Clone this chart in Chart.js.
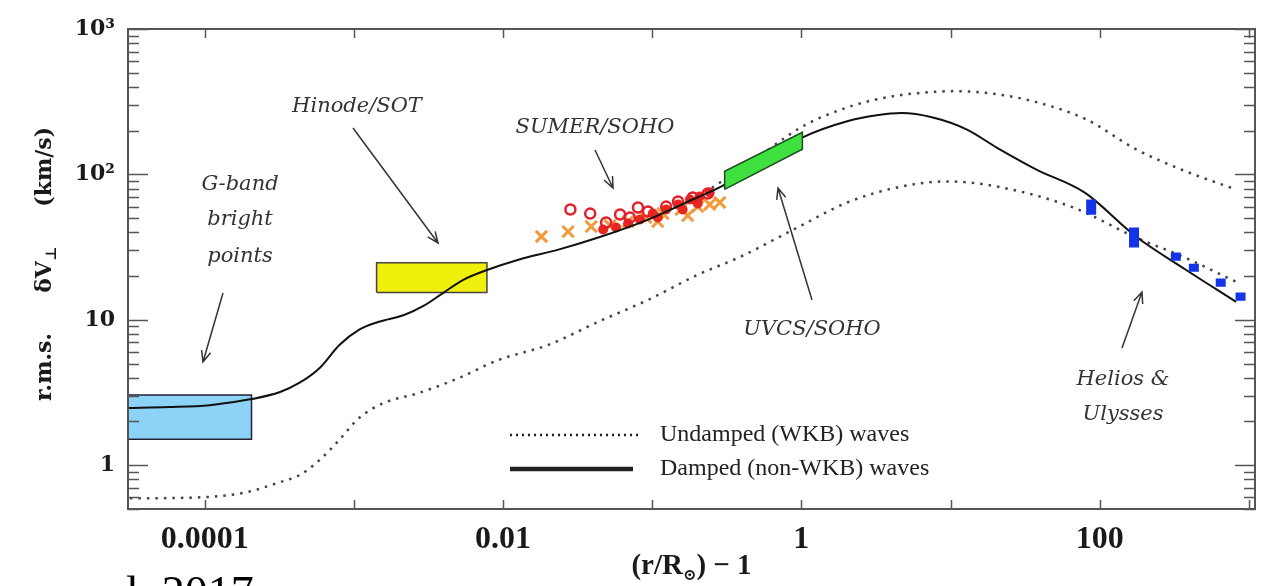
<!DOCTYPE html>
<html>
<head>
<meta charset="utf-8">
<script src="https://cdn.jsdelivr.net/npm/chart.js@4.4.0/dist/chart.umd.min.js"></script>
<style>
  html, body { margin: 0; padding: 0; background: #fff; }
  #wrap { width: 1266px; height: 586px; position: relative; }
</style>
</head>
<body>
<div id="wrap"><canvas id="c"></canvas></div>
<script>
// x = (r/Rsun) - 1, y = r.m.s. dV_perp in km/s
const xTickValues = [1e-4, 1e-3, 1e-2, 1e-1, 1, 10, 100, 1000];
const xTickLabels = ['0.0001', '', '0.01', '', '1', '', '100', ''];
const yTickValues = [1, 10, 100, 1000];
const yTickLabels = ['1', '10', '10²', '10³'];

// damped (non-WKB) model, solid
const dampedR = [3.0e-5, 5.8e-5, 1.08e-4, 2.06e-4, 3.2e-4, 4.3e-4, 5.9e-4, 8.0e-4, 1.08e-3, 1.47e-3, 2.17e-3, 2.95e-3, 4.0e-3, 5.45e-3, 7.9e-3, 0.0127, 0.0235, 0.0435, 0.094, 0.20, 0.30, 0.51, 1.02, 2.03, 3.2, 4.7, 7.5, 12.8, 20.4, 37.7, 79, 175, 378, 820];
const dampedV = [2.47, 2.51, 2.59, 2.85, 3.19, 3.68, 4.67, 6.72, 8.53, 9.69, 10.8, 12.5, 15.4, 18.9, 22.1, 25.9, 30.4, 36.8, 48.9, 69.4, 84, 121, 180, 232, 255, 264, 247, 204, 153, 108, 75.2, 37.4, 22.1, 13.3];

// undamped (WKB), upper dotted branch
const wkbHighR = [0.202, 0.508, 1.02, 1.88, 3.22, 5.96, 11.0, 20.4, 37.7, 81.3, 175, 378, 817];
const wkbHighV = [69.4, 131, 214, 281, 329, 362, 374, 356, 314, 239, 149, 105, 78.8];

// undamped (WKB), lower dotted branch
const wkbLowR = [3.15e-5, 9.7e-5, 1.9e-4, 3.17e-4, 4.31e-4, 5.86e-4, 7.97e-4, 1.08e-3, 1.59e-3, 2.73e-3, 5.05e-3, 9.33e-3, 0.0201, 0.0435, 0.0937, 0.202, 0.392, 0.94, 2.03, 4.38, 9.44, 20.4, 66.5, 175, 361, 817];
const wkbLowV = [0.592, 0.602, 0.652, 0.763, 0.853, 1.08, 1.49, 2.11, 2.68, 3.14, 3.98, 5.3, 6.72, 9.69, 13.7, 20.4, 27.2, 43.1, 64.1, 81.3, 89.5, 82.6, 59.2, 36.8, 27.2, 18.3];

// observations
const gbandR = [3e-5, 2.06e-4];
const gbandV = [1.51, 3.04];
const hinodeR = [1.42e-3, 7.8e-3];
const hinodeV = [15.4, 24.7];
const uvcsR = [0.306, 1.016];
const uvcsLo = [78.8, 149];
const uvcsHi = [105, 195];

const sumerCircR = [0.0283, 0.0384, 0.0491, 0.0609, 0.071, 0.0803, 0.0937, 0.124, 0.149, 0.187, 0.236];
const sumerCircV = [57.4, 53.8, 46.7, 53, 50.5, 59.2, 55.6, 60.1, 65.1, 69.4, 73.9];
const sumerDotR = [0.0469, 0.0573, 0.0689, 0.0828, 0.101, 0.124, 0.149, 0.179, 0.208, 0.243, 0.109, 0.16, 0.202];
const sumerDotV = [41.8, 43.1, 45.9, 48.9, 53.8, 57.4, 62.1, 67.3, 70.5, 75.2, 50.5, 57.4, 63.1];
const sumerCrossR = [0.0181, 0.0273, 0.039, 0.0522, 0.0689, 0.0908, 0.118, 0.156, 0.202, 0.243, 0.284, 0.109, 0.173];
const sumerCrossV = [37.4, 40.4, 43.8, 44.5, 47.4, 50.5, 53.8, 57.4, 60.1, 62.1, 64.1, 47.4, 52.1];

const heliosR = [87.7, 170, 324, 428, 648, 880];
const heliosLo = [52.7, 31.4, 25.5, 21.4, 16.9, 13.5];
const heliosHi = [67.2, 43.1, 29.0, 24.3, 19.2, 15.4];

const pts = (rs, vs) => rs.map((r, i) => ({ x: r, y: vs[i] }));
const quad = (rs, lo, hi) => [
  { x: rs[0], y: lo[0] }, { x: rs[1], y: lo[1] },
  { x: rs[1], y: hi[1] }, { x: rs[0], y: hi[0] }, { x: rs[0], y: lo[0] }
];
const heliosSeg = [];
heliosR.forEach((r, i) => {
  heliosSeg.push({ x: r, y: heliosLo[i] }, { x: r, y: heliosHi[i] }, { x: r, y: null });
});

const SERIF = "'Liberation Serif', 'Times New Roman', serif";
const DJ = "'DejaVu Serif', serif";

function arrow(ctx, x1, y1, x2, y2) {
  const a = Math.atan2(y2 - y1, x2 - x1), h = 12;
  ctx.beginPath();
  ctx.moveTo(x1, y1); ctx.lineTo(x2, y2);
  ctx.moveTo(x2 - h * Math.cos(a - 0.4), y2 - h * Math.sin(a - 0.4));
  ctx.lineTo(x2, y2);
  ctx.lineTo(x2 - h * Math.cos(a + 0.4), y2 - h * Math.sin(a + 0.4));
  ctx.stroke();
}

// frame, inward ticks, notes, legend and axis titles
const decor = {
  id: 'decor',
  afterDraw(chart) {
    const { ctx, chartArea: a, scales: { x, y } } = chart;
    ctx.save();
    ctx.strokeStyle = '#555';
    ctx.lineWidth = 1.5;
    const seg = (x1, y1, x2, y2) => { ctx.beginPath(); ctx.moveTo(x1, y1); ctx.lineTo(x2, y2); ctx.stroke(); };
    for (let e = -1; e <= 3; e++) {
      for (let m = 1; m <= 9; m++) {
        const v = m * Math.pow(10, e);
        if (v < y.min || v > y.max) continue;
        const py = Math.round(y.getPixelForValue(v)) + 0.5;
        const len = m === 1 ? 20 : 11;
        seg(a.left, py, a.left + len, py);
        seg(a.right - len, py, a.right, py);
      }
    }
    xTickValues.forEach(v => {
      const px = Math.round(x.getPixelForValue(v)) + 0.5;
      seg(px, a.bottom, px, a.bottom - 9);
      seg(px, a.top, px, a.top + 9);
    });
    ctx.lineWidth = 2;
    ctx.strokeRect(a.left, a.top, a.width, a.height);

    // notes
    ctx.fillStyle = '#333';
    ctx.strokeStyle = '#333';
    ctx.lineWidth = 1.5;
    ctx.textAlign = 'center';
    ctx.textBaseline = 'middle';
    ctx.font = "italic 21px " + DJ;
    ctx.fillText('G-band', 240, 185);
    ctx.fillText('bright', 240, 220);
    ctx.fillText('points', 240, 257);
    arrow(ctx, 223, 293, 203, 362);
    ctx.fillText('Hinode/SOT', 357, 107);
    arrow(ctx, 353, 128, 438, 243);
    ctx.fillText('SUMER/SOHO', 595, 128);
    arrow(ctx, 595, 150, 613, 188);
    ctx.fillText('UVCS/SOHO', 812, 330);
    arrow(ctx, 812, 300, 778, 188);
    ctx.fillText('Helios &', 1123, 380);
    ctx.fillText('Ulysses', 1123, 415);
    arrow(ctx, 1122, 348, 1142, 292);

    // legend
    ctx.strokeStyle = '#222';
    ctx.lineWidth = 2.5;
    ctx.setLineDash([2, 4]);
    seg(510, 435, 638, 435);
    ctx.setLineDash([]);
    ctx.lineWidth = 4.5;
    seg(510, 469, 633, 469);
    ctx.fillStyle = '#222';
    ctx.textAlign = 'left';
    ctx.font = "24px " + SERIF;
    ctx.fillText('Undamped (WKB) waves', 660, 435);
    ctx.fillText('Damped (non-WKB) waves', 660, 469);

    // x title: (r/R_sun) - 1
    ctx.fillStyle = '#1a1a1a';
    const tf = "bold 29px " + SERIF, sf = "bold 16px " + DJ;
    ctx.font = tf;
    const p1 = '(r/R', p3 = ') − 1';
    const w1 = ctx.measureText(p1).width, w3 = ctx.measureText(p3).width;
    ctx.font = sf;
    const w2 = ctx.measureText('⊙').width;
    const tx = (a.left + a.right) / 2 - (w1 + w2 + w3) / 2;
    const ty = 567;
    ctx.font = tf;
    ctx.fillText(p1, tx, ty);
    ctx.font = sf;
    ctx.fillText('⊙', tx + w1, ty + 9);
    ctx.font = tf;
    ctx.fillText(p3, tx + w1 + w2, ty);

    // y title, rotated
    ctx.save();
    ctx.translate(45, 264);
    ctx.rotate(-Math.PI / 2);
    const big = "bold 22px " + DJ, small = "bold 15px " + DJ;
    const parts = [['r.m.s.', big, 0, 40], ['δV', big, 0, 0], ['⊥', small, 7, 40], ['(km/s)', big, 0, 0]];
    let total = 0;
    parts.forEach(p => { ctx.font = p[1]; total += ctx.measureText(p[0]).width + p[3]; });
    let cx = -total / 2;
    parts.forEach(p => {
      ctx.font = p[1];
      ctx.fillText(p[0], cx, p[2]);
      cx += ctx.measureText(p[0]).width + p[3];
    });
    ctx.restore();

    // stray caption from the slide, cut by the bottom edge
    ctx.fillStyle = '#000';
    ctx.font = "46px " + SERIF;
    ctx.textBaseline = 'alphabetic';
    ctx.fillText('l. 2017', 126, 608);
    ctx.restore();
  }
};

new Chart(document.getElementById('c'), {
  type: 'scatter',
  data: {
    datasets: [
      { data: quad(uvcsR, uvcsLo, uvcsHi), showLine: true, fill: 'shape', tension: 0,
        backgroundColor: '#3fe03f', borderColor: '#1f4f1f', borderWidth: 1.5, pointRadius: 0, order: 1 },
      { data: heliosSeg, showLine: true, spanGaps: false, borderColor: '#1434ea', borderWidth: 10,
        borderCapStyle: 'butt', pointRadius: 0, order: 2 },
      { data: pts(dampedR, dampedV), showLine: true, cubicInterpolationMode: 'monotone',
        borderColor: '#111', borderWidth: 2, pointRadius: 0, order: 3 },
      { data: pts(sumerCircR, sumerCircV), pointStyle: 'circle', pointRadius: 5, pointBorderWidth: 2.5,
        pointBorderColor: '#e3202a', pointBackgroundColor: 'rgba(0,0,0,0)', order: 4 },
      { data: pts(sumerDotR, sumerDotV), pointStyle: 'circle', pointRadius: 5, pointBorderWidth: 0,
        pointBackgroundColor: '#e8281e', order: 5 },
      { data: pts(sumerCrossR, sumerCrossV), pointStyle: 'crossRot', pointRadius: 8, pointBorderWidth: 3,
        pointBorderColor: '#f39a3c', order: 6 },
      { data: pts(wkbHighR, wkbHighV), showLine: true, cubicInterpolationMode: 'monotone',
        borderColor: '#444', borderWidth: 2.5, borderDash: [2.5, 6], pointRadius: 0, order: 7 },
      { data: pts(wkbLowR, wkbLowV), showLine: true, cubicInterpolationMode: 'monotone',
        borderColor: '#444', borderWidth: 2.5, borderDash: [2.5, 6], pointRadius: 0, order: 8 },
      { data: quad(hinodeR, [hinodeV[0], hinodeV[0]], [hinodeV[1], hinodeV[1]]), showLine: true, fill: 'shape',
        tension: 0, backgroundColor: '#f0f00c', borderColor: '#444', borderWidth: 1.5, pointRadius: 0, order: 9 },
      { data: quad(gbandR, [gbandV[0], gbandV[0]], [gbandV[1], gbandV[1]]), showLine: true, fill: 'shape',
        tension: 0, backgroundColor: '#8dd3f7', borderColor: '#223', borderWidth: 1.5, pointRadius: 0, order: 10 }
    ]
  },
  options: {
    responsive: true,
    maintainAspectRatio: false,
    animation: false,
    events: [],
    layout: { padding: { top: 29, right: 6, left: 0, bottom: 0 } },
    plugins: { legend: { display: false }, tooltip: { enabled: false } },
    scales: {
      x: {
        type: 'logarithmic', min: 3.06e-5, max: 1100,
        grid: { display: false, drawTicks: false }, border: { display: false },
        afterBuildTicks: s => { s.ticks = xTickValues.map(v => ({ value: v })); },
        afterFit: s => { s.height = 77; },
        ticks: {
          autoSkip: false, maxRotation: 0, padding: 12, color: '#1a1a1a',
          font: { family: SERIF, size: 32, weight: 'bold' },
          callback: (v, i) => xTickLabels[i]
        }
      },
      y: {
        type: 'logarithmic', min: 0.5, max: 1000,
        grid: { display: false, drawTicks: false }, border: { display: false },
        afterBuildTicks: s => { s.ticks = yTickValues.map(v => ({ value: v })); },
        afterFit: s => { s.width = 128; },
        ticks: {
          autoSkip: false, padding: 13, color: '#1a1a1a',
          font: { family: DJ, size: 22, weight: 'bold' },
          callback: (v, i) => yTickLabels[i]
        }
      }
    }
  },
  plugins: [decor]
});
</script>
</body>
</html>
